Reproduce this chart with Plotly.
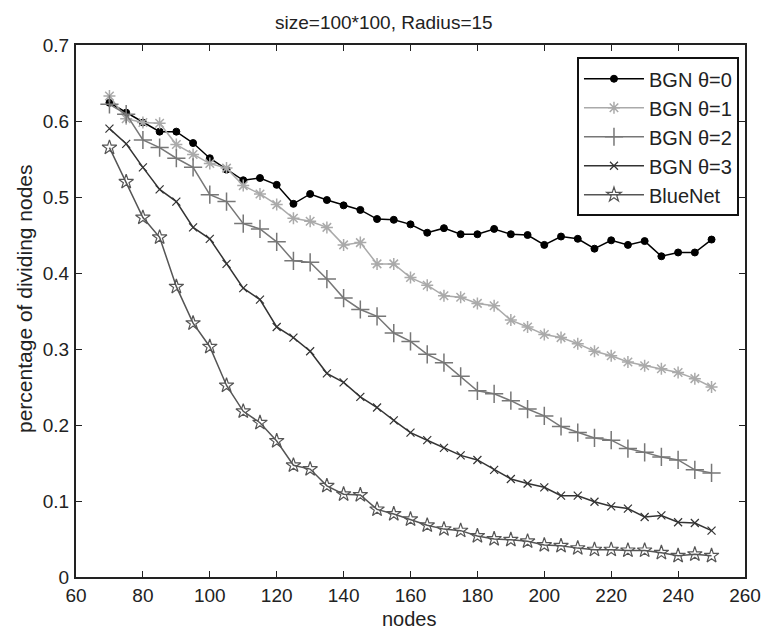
import plotly.graph_objects as go

nodes = list(range(70, 251, 5))

bgn0 = [0.624, 0.611, 0.598, 0.586, 0.586, 0.571, 0.551, 0.536, 0.522, 0.525,
        0.516, 0.491, 0.504, 0.496, 0.489, 0.483, 0.471, 0.470, 0.464, 0.453,
        0.459, 0.451, 0.451, 0.458, 0.451, 0.450, 0.437, 0.448, 0.445, 0.432,
        0.443, 0.437, 0.442, 0.422, 0.427, 0.427, 0.444]
bgn1 = [0.633, 0.603, 0.598, 0.597, 0.569, 0.556, 0.544, 0.538, 0.515, 0.504,
        0.490, 0.472, 0.468, 0.460, 0.437, 0.440, 0.412, 0.412, 0.394, 0.384,
        0.370, 0.368, 0.360, 0.357, 0.338, 0.329, 0.319, 0.315, 0.307, 0.297,
        0.291, 0.283, 0.278, 0.274, 0.269, 0.261, 0.250]
bgn2 = [0.622, 0.609, 0.575, 0.565, 0.551, 0.539, 0.503, 0.494, 0.465, 0.458,
        0.441, 0.416, 0.414, 0.392, 0.367, 0.352, 0.343, 0.321, 0.310, 0.293,
        0.282, 0.264, 0.245, 0.241, 0.232, 0.221, 0.212, 0.198, 0.190, 0.183,
        0.180, 0.169, 0.164, 0.158, 0.154, 0.141, 0.137]
bgn3 = [0.590, 0.570, 0.539, 0.510, 0.494, 0.460, 0.445, 0.412, 0.380, 0.365,
        0.329, 0.315, 0.297, 0.268, 0.256, 0.237, 0.223, 0.206, 0.190, 0.180,
        0.170, 0.160, 0.154, 0.141, 0.129, 0.123, 0.118, 0.107, 0.107, 0.099,
        0.093, 0.090, 0.079, 0.081, 0.072, 0.071, 0.061]
bluenet = [0.565, 0.520, 0.473, 0.447, 0.382, 0.334, 0.303, 0.252, 0.218, 0.203,
           0.179, 0.147, 0.142, 0.120, 0.109, 0.108, 0.089, 0.083, 0.076, 0.068,
           0.063, 0.061, 0.054, 0.050, 0.049, 0.047, 0.042, 0.041, 0.038, 0.036,
           0.036, 0.035, 0.035, 0.032, 0.028, 0.030, 0.028]

series = [
    ("BGN θ=0", bgn0, "#000000", "circle", 7, 1.0),
    ("BGN θ=1", bgn1, "#aaaaaa", "asterisk-open", 10, 1.5),
    ("BGN θ=2", bgn2, "#777777", "cross-thin-open", 13, 1.5),
    ("BGN θ=3", bgn3, "#333333", "x-thin-open", 8, 1.2),
    ("BlueNet", bluenet, "#555555", "star-open", 11, 1.2),
]

FONT = "Liberation Sans, Arial, sans-serif"

fig = go.Figure()
for name, vals, color, sym, size, mlw in series:
    fig.add_trace(go.Scatter(
        x=nodes, y=vals, mode="lines+markers", name=name,
        line=dict(color=color, width=1.5),
        marker=dict(symbol=sym, size=size, color=color,
                    line=dict(color=color, width=mlw)),
    ))

axis_common = dict(
    showline=True, linewidth=2, linecolor="#222222", mirror="ticks",
    ticks="inside", ticklen=6, tickwidth=1.2, tickcolor="#222222",
    showgrid=False, zeroline=False,
    tickfont=dict(family=FONT, size=19, color="#222222"),
)

fig.update_xaxes(range=[60, 260], tickvals=list(range(60, 261, 20)),
                 ticklabelstandoff=0, **axis_common)
fig.update_yaxes(range=[0, 0.7], tickvals=[0, 0.1, 0.2, 0.3, 0.4, 0.5, 0.6, 0.7],
                 ticktext=["0", "0.1", "0.2", "0.3", "0.4", "0.5", "0.6", "0.7"],
                 ticklabelstandoff=1, **axis_common)

fig.update_layout(
    width=765, height=622,
    margin=dict(l=68, r=21, t=37, b=53),
    paper_bgcolor="white", plot_bgcolor="white",
    font=dict(family=FONT, color="#222222"),
    showlegend=True,
    legend=dict(
        x=0.991, y=0.977, xanchor="right", yanchor="top",
        bgcolor="white", bordercolor="#111111", borderwidth=2,
        font=dict(family=FONT, size=20, color="#222222"),
        tracegroupgap=0, itemwidth=60,
    ),
    annotations=[
        dict(text="size=100*100, Radius=15", xref="paper", yref="paper",
             x=0.4608, y=1.043, xanchor="center", yanchor="middle",
             showarrow=False, font=dict(family=FONT, size=19, color="#222222")),
        dict(text="nodes", xref="paper", yref="paper",
             x=0.4985, y=-0.079, xanchor="center", yanchor="middle",
             showarrow=False, font=dict(family=FONT, size=20, color="#222222")),
        dict(text="percentage of dividing nodes", xref="paper", yref="paper",
             x=-0.077, y=0.5235, xanchor="center", yanchor="middle", textangle=-90,
             showarrow=False, font=dict(family=FONT, size=21, color="#222222")),
    ],
)

fig.write_html("out.html")
